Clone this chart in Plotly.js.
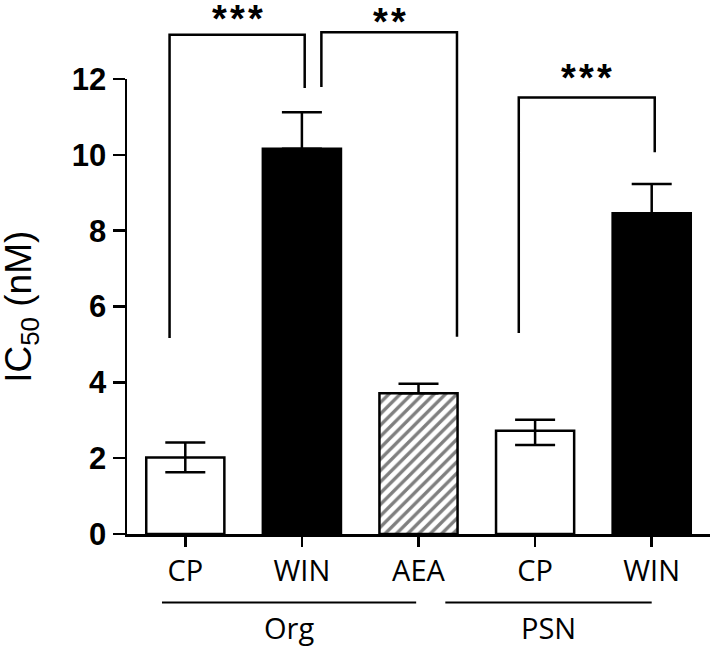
<!DOCTYPE html>
<html>
<head>
<meta charset="utf-8">
<script src="https://cdn.plot.ly/plotly-3.0.1.min.js"></script>
<style>html,body{margin:0;padding:0;background:#fff;}#chart{width:713px;height:647px;}</style>
</head>
<body>
<div id="chart"></div>
<script>
// ---- data ----
const categories = ['CP', 'WIN', 'AEA', 'CP', 'WIN'];
const ic50 = [2.02, 10.16, 3.71, 2.72, 8.46];
const errPlus = [0.39, 0.96, 0.25, 0.29, 0.77];
const errMinus = [0.39, 0.96, 0.25, 0.37, 0.77];
const groupNames = ['Org', 'PSN'];
const groupFirst = [0, 3];
const groupLast = [2, 4];
const yTitle = 'IC<sub>50</sub> (nM)';
// significance comparisons (bar indices) and labels
const sigFrom = [0, 1, 3];
const sigTo = [1, 2, 4];
const sigLabels = ['*\u200A*\u200A*', '*\u200A*', '*\u200A*\u200A*'];

// ---- styles / layout helpers ----
const barKind = ['open', 'solid', 'hatch', 'open', 'solid'];
const yMax = 12, xMin = -0.5, xMax = 4.5;
const px = v => (v - xMin) / (xMax - xMin);
const py = v => v / yMax;

const xs = categories.map((_, i) => i);

function makeTrace(kind, fill, pattern) {
  const idx = xs.filter(i => barKind[i] === kind);
  const t = {
    type: 'bar',
    x: idx,
    y: idx.map(i => ic50[i]),
    width: 0.67,
    marker: {color: fill, line: {color: '#000', width: 2.5}},
    error_y: {
      type: 'data', symmetric: false,
      array: idx.map(i => errPlus[i]),
      arrayminus: idx.map(i => kind === 'open' ? errMinus[i] : 0),
      color: '#000', thickness: 2.5, width: 20, visible: true
    },
    hoverinfo: 'skip'
  };
  if (pattern) t.marker.pattern = pattern;
  return t;
}

const traces = [
  makeTrace('open', '#ffffff'),
  makeTrace('solid', '#000000'),
  makeTrace('hatch', '#ffffff', {shape: '/', fgcolor: '#000000', bgcolor: '#ffffff', size: 8, solidity: 0.42, fillmode: 'overlay'})
];

// bracket geometry (layout: leg x offsets and heights in data units)
const legFromOff = [-0.135, 0.167, -0.14];
const legToOff = [0.024, 0.33, 0.026];
const bracketTop = [13.17, 13.23, 11.51];
const legFromBottom = [5.17, 11.79, 5.3];
const legToBottom = [11.76, 5.2, 10.07];
const starGap = [0.42, 0.27, 0.52];

const shapes = [];
const annotations = [];
const lineStyle = {color: '#000', width: 2.5};
sigFrom.forEach((a, k) => {
  const xa = px(a + legFromOff[k]);
  const xb = px(sigTo[k] + legToOff[k]);
  const top = py(bracketTop[k]);
  shapes.push({type: 'path', xref: 'paper', yref: 'paper',
    path: `M ${xa} ${py(legFromBottom[k])} L ${xa} ${top} L ${xb} ${top} L ${xb} ${py(legToBottom[k])}`,
    line: lineStyle});
  annotations.push({xref: 'paper', yref: 'paper', x: (xa + xb) / 2, y: py(bracketTop[k] + starGap[k]),
    xanchor: 'center', yanchor: 'middle', showarrow: false, text: sigLabels[k],
    font: {family: 'Liberation Sans, Arial, sans-serif', size: 38, color: '#000', weight: 'bold'}});
});

// group underlines and labels
const grpLineFrom = [-0.2, 2.23];
const grpLineTo = [1.98, 4.0];
groupNames.forEach((g, k) => {
  const x0 = px(grpLineFrom[k]);
  const x1 = px(grpLineTo[k]);
  shapes.push({type: 'line', xref: 'paper', yref: 'paper', x0: x0, x1: x1, y0: -0.1505, y1: -0.1505,
    line: {color: '#000', width: 2}});
  annotations.push({xref: 'paper', yref: 'paper', x: (x0 + x1) / 2, y: -0.205, xanchor: 'center', yanchor: 'middle',
    showarrow: false, text: g, font: {family: 'Open Sans, sans-serif', size: 29, color: '#000'}});
});

// y-axis title (rotated)
annotations.push({xref: 'paper', yref: 'paper', x: -0.183, y: 0.5, xanchor: 'center', yanchor: 'middle',
  textangle: -90, showarrow: false, text: yTitle,
  font: {family: 'Liberation Sans, Arial, sans-serif', size: 37, color: '#000'}});

const layout = {
  width: 713, height: 647,
  margin: {l: 127, r: 3, t: 79, b: 113},
  paper_bgcolor: '#fff', plot_bgcolor: '#fff',
  showlegend: false,
  barmode: 'overlay',
  xaxis: {
    range: [xMin, xMax], tickmode: 'array', tickvals: xs, ticktext: categories,
    showline: true, linecolor: '#000', linewidth: 2.5, ticks: 'outside', ticklen: 10, tickwidth: 2.5, tickcolor: '#000',
    showgrid: false, zeroline: false, fixedrange: true,
    tickfont: {family: 'Open Sans, sans-serif', size: 29, color: '#000'}
  },
  yaxis: {
    range: [0, yMax], tickmode: 'linear', tick0: 0, dtick: 2,
    showline: true, linecolor: '#000', linewidth: 2.5, ticks: 'outside', ticklen: 12, tickwidth: 2.5, tickcolor: '#000',
    showgrid: false, zeroline: false, fixedrange: true,
    tickfont: {family: 'Liberation Sans, Arial, sans-serif', size: 31, color: '#000', weight: 'bold'}
  },
  shapes: shapes,
  annotations: annotations
};

Plotly.newPlot('chart', traces, layout, {displayModeBar: false, staticPlot: true});
</script>
</body>
</html>
